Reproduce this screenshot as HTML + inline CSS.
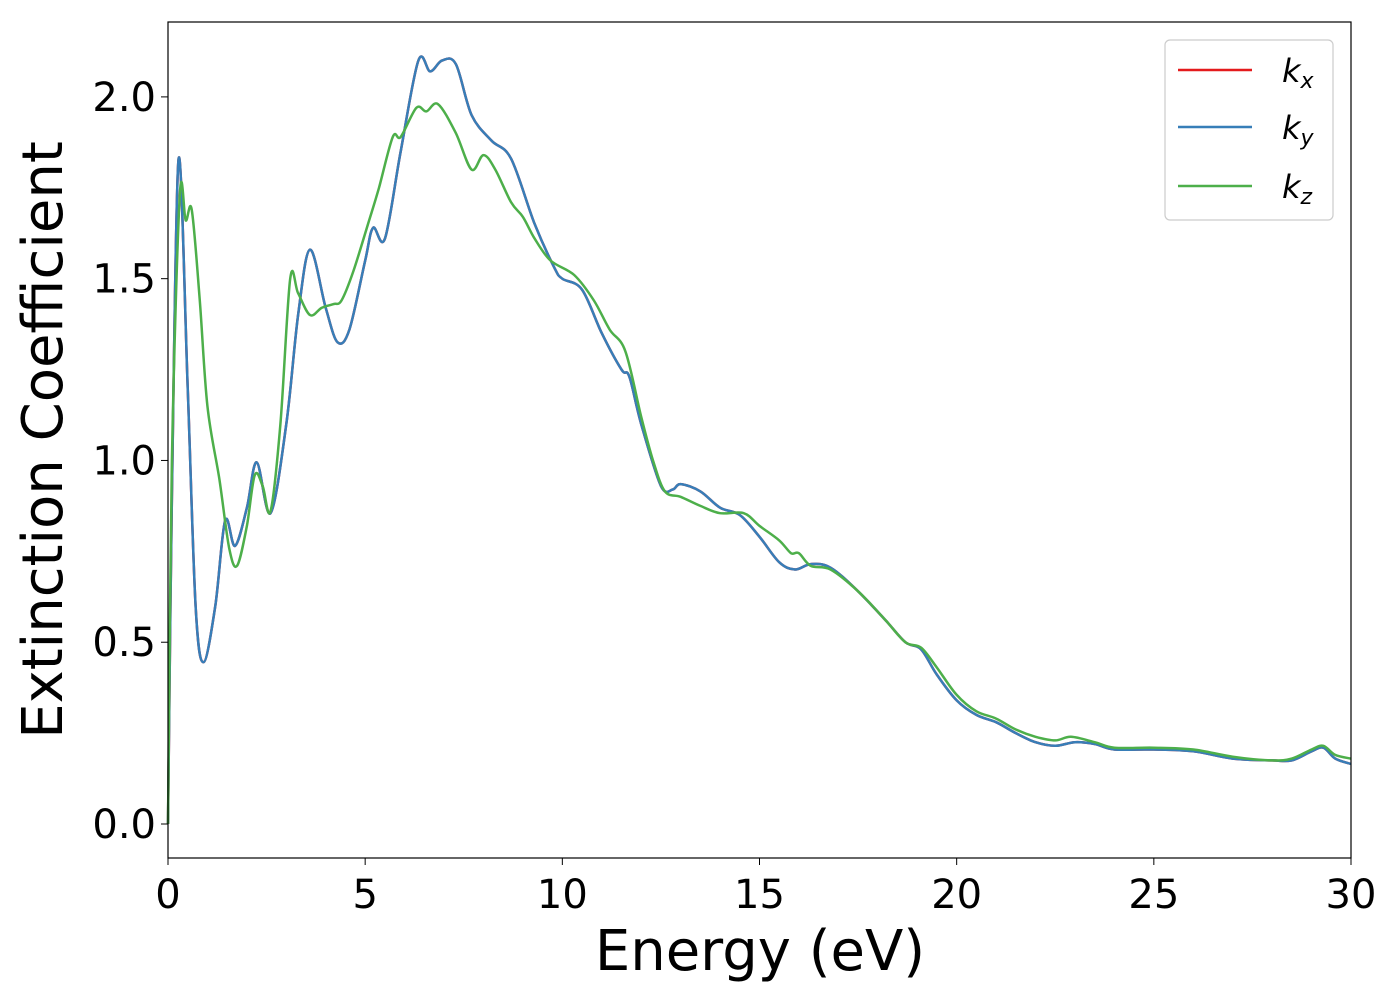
<!DOCTYPE html>
<html><head><meta charset="utf-8"><style>
body{margin:0;background:#fff;}
svg text{font-family:"DejaVu Sans","Liberation Sans",sans-serif;}
</style></head><body>
<svg width="1400" height="1000" xmlns="http://www.w3.org/2000/svg" id="chart">
<rect width="1400" height="1000" fill="#fff"/>
<g id="plot"></g>
<rect x="168" y="22" width="1183" height="836" fill="none" stroke="#000" stroke-width="1.2"/>
<g id="ticks"></g>
<text x="760" y="970" font-size="56" text-anchor="middle">Energy (eV)</text>
<text transform="translate(62,440) rotate(-90)" font-size="56" text-anchor="middle">Extinction Coefficient</text>
<g>
<rect x="1165" y="40" width="168" height="180" rx="5" fill="#fff" stroke="#ccc" stroke-width="1.2"/>
<line x1="1178" y1="70" x2="1252" y2="70" stroke="#e41a1c" stroke-width="2.5"/>
<text x="1282" y="82" font-size="32" font-style="italic">k<tspan font-size="22" dy="6">x</tspan></text>
<line x1="1178" y1="127" x2="1252" y2="127" stroke="#377eb8" stroke-width="2.5"/>
<text x="1282" y="139" font-size="32" font-style="italic">k<tspan font-size="22" dy="6">y</tspan></text>
<line x1="1178" y1="186" x2="1252" y2="186" stroke="#4daf4a" stroke-width="2.5"/>
<text x="1282" y="198" font-size="32" font-style="italic">k<tspan font-size="22" dy="6">z</tspan></text>
</g>
</svg>
<script>
const energyXY=[0,0.1,0.27,0.5,0.7,0.9,1.2,1.45,1.7,2.0,2.25,2.6,3.0,3.3,3.6,4.0,4.3,4.6,5.0,5.2,5.5,5.9,6.35,6.65,6.95,7.3,7.7,8.2,8.7,9.3,9.8,10.0,10.5,11.0,11.5,11.7,12.0,12.5,12.8,13.0,13.5,14.0,14.5,15.0,15.5,15.9,16.3,16.8,17.5,18.2,18.7,19.1,19.5,20.0,20.5,21.0,21.5,22.0,22.5,23.0,23.5,24.0,25.0,26.0,27.0,28.0,28.5,29.0,29.3,29.6,30.0];
const kyValues=[0,0.9,1.83,1.2,0.6,0.445,0.6,0.835,0.765,0.87,0.995,0.855,1.1,1.4,1.58,1.42,1.325,1.36,1.55,1.64,1.61,1.85,2.10,2.07,2.10,2.09,1.95,1.88,1.83,1.65,1.53,1.50,1.47,1.35,1.25,1.23,1.1,0.93,0.92,0.935,0.915,0.87,0.85,0.79,0.72,0.70,0.715,0.705,0.64,0.56,0.50,0.48,0.41,0.34,0.30,0.28,0.25,0.225,0.215,0.225,0.22,0.205,0.205,0.20,0.18,0.175,0.175,0.20,0.21,0.18,0.165];
const kxValues=kyValues.slice();
const energyZ=[0,0.1,0.3,0.45,0.6,0.8,1.0,1.3,1.55,1.75,2.0,2.2,2.4,2.6,2.85,3.1,3.3,3.6,3.9,4.2,4.4,4.7,5.1,5.35,5.7,5.9,6.3,6.55,6.85,7.3,7.7,8.0,8.3,8.7,9.0,9.3,9.7,10.3,10.8,11.2,11.6,12.0,12.3,12.6,13.0,13.5,14.0,14.6,15.0,15.5,15.8,16.0,16.3,16.8,17.5,18.2,18.7,19.1,19.5,20.0,20.5,21.0,21.5,22.0,22.5,22.9,23.5,24.0,25.0,26.0,27.0,28.0,28.5,29.0,29.3,29.6,30.0];
const kzValues=[0,1.0,1.73,1.66,1.69,1.45,1.15,0.95,0.76,0.71,0.82,0.96,0.93,0.86,1.1,1.5,1.46,1.40,1.42,1.43,1.44,1.52,1.66,1.75,1.89,1.89,1.97,1.96,1.98,1.90,1.80,1.84,1.80,1.71,1.67,1.61,1.55,1.51,1.44,1.36,1.30,1.12,1.00,0.915,0.90,0.875,0.855,0.855,0.82,0.78,0.745,0.745,0.71,0.70,0.64,0.56,0.50,0.485,0.43,0.355,0.31,0.29,0.26,0.24,0.23,0.24,0.225,0.21,0.21,0.205,0.185,0.175,0.18,0.205,0.215,0.19,0.18];
const xTicks=[0,5,10,15,20,25,30];
const yTicks=[0.0,0.5,1.0,1.5,2.0];
const yTickLabels=["0.0","0.5","1.0","1.5","2.0"];
const X0=168,X1=1351,Y0=858,Y1=22,xmin=0,xmax=30,ymin=-0.0935,ymax=2.206;
const sx=v=>X0+(v-xmin)/(xmax-xmin)*(X1-X0);
const sy=v=>Y0-(v-ymin)/(ymax-ymin)*(Y0-Y1);
const NS="http://www.w3.org/2000/svg";
function pathFor(xs,ys){
  const p=xs.map((x,i)=>[sx(x),sy(ys[i])]);
  let d="M"+p[0][0]+","+p[0][1];
  for(let i=0;i<p.length-1;i++){
    const a=p[Math.max(i-1,0)],b=p[i],c=p[i+1],e=p[Math.min(i+2,p.length-1)];
    const c1=[b[0]+(c[0]-a[0])/6,b[1]+(c[1]-a[1])/6];
    const c2=[c[0]-(e[0]-b[0])/6,c[1]-(e[1]-b[1])/6];
    d+=" C"+c1[0].toFixed(1)+","+c1[1].toFixed(1)+" "+c2[0].toFixed(1)+","+c2[1].toFixed(1)+" "+c[0].toFixed(1)+","+c[1].toFixed(1);
  }
  return d;
}
const plot=document.getElementById("plot");
[["kx",energyXY,kxValues,"#e41a1c"],["ky",energyXY,kyValues,"#377eb8"],["kz",energyZ,kzValues,"#4daf4a"]].forEach(s=>{
  const el=document.createElementNS(NS,"path");
  el.setAttribute("d",pathFor(s[1],s[2]));
  el.setAttribute("fill","none");el.setAttribute("stroke",s[3]);el.setAttribute("stroke-width","2.5");
  
  
  plot.appendChild(el);
});
const tg=document.getElementById("ticks");
xTicks.forEach(v=>{
  const l=document.createElementNS(NS,"line");
  l.setAttribute("x1",sx(v));l.setAttribute("x2",sx(v));l.setAttribute("y1",Y0);l.setAttribute("y2",Y0+7);l.setAttribute("stroke","#000");
  
  
  tg.appendChild(l);
  const t=document.createElementNS(NS,"text");
  t.setAttribute("x",sx(v));t.setAttribute("y",908);t.setAttribute("font-size","40");t.setAttribute("text-anchor","middle");
  t.textContent=v;
  
  
  tg.appendChild(t);
});
yTicks.forEach((v,i)=>{
  const l=document.createElementNS(NS,"line");
  l.setAttribute("x1",X0-7);l.setAttribute("x2",X0);l.setAttribute("y1",sy(v));l.setAttribute("y2",sy(v));l.setAttribute("stroke","#000");
  
  
  tg.appendChild(l);
  const t=document.createElementNS(NS,"text");
  t.setAttribute("x",156);t.setAttribute("y",sy(v)+14);t.setAttribute("font-size","40");t.setAttribute("text-anchor","end");
  t.textContent=yTickLabels[i];
  
  
  tg.appendChild(t);
});
</script>
</body></html>
